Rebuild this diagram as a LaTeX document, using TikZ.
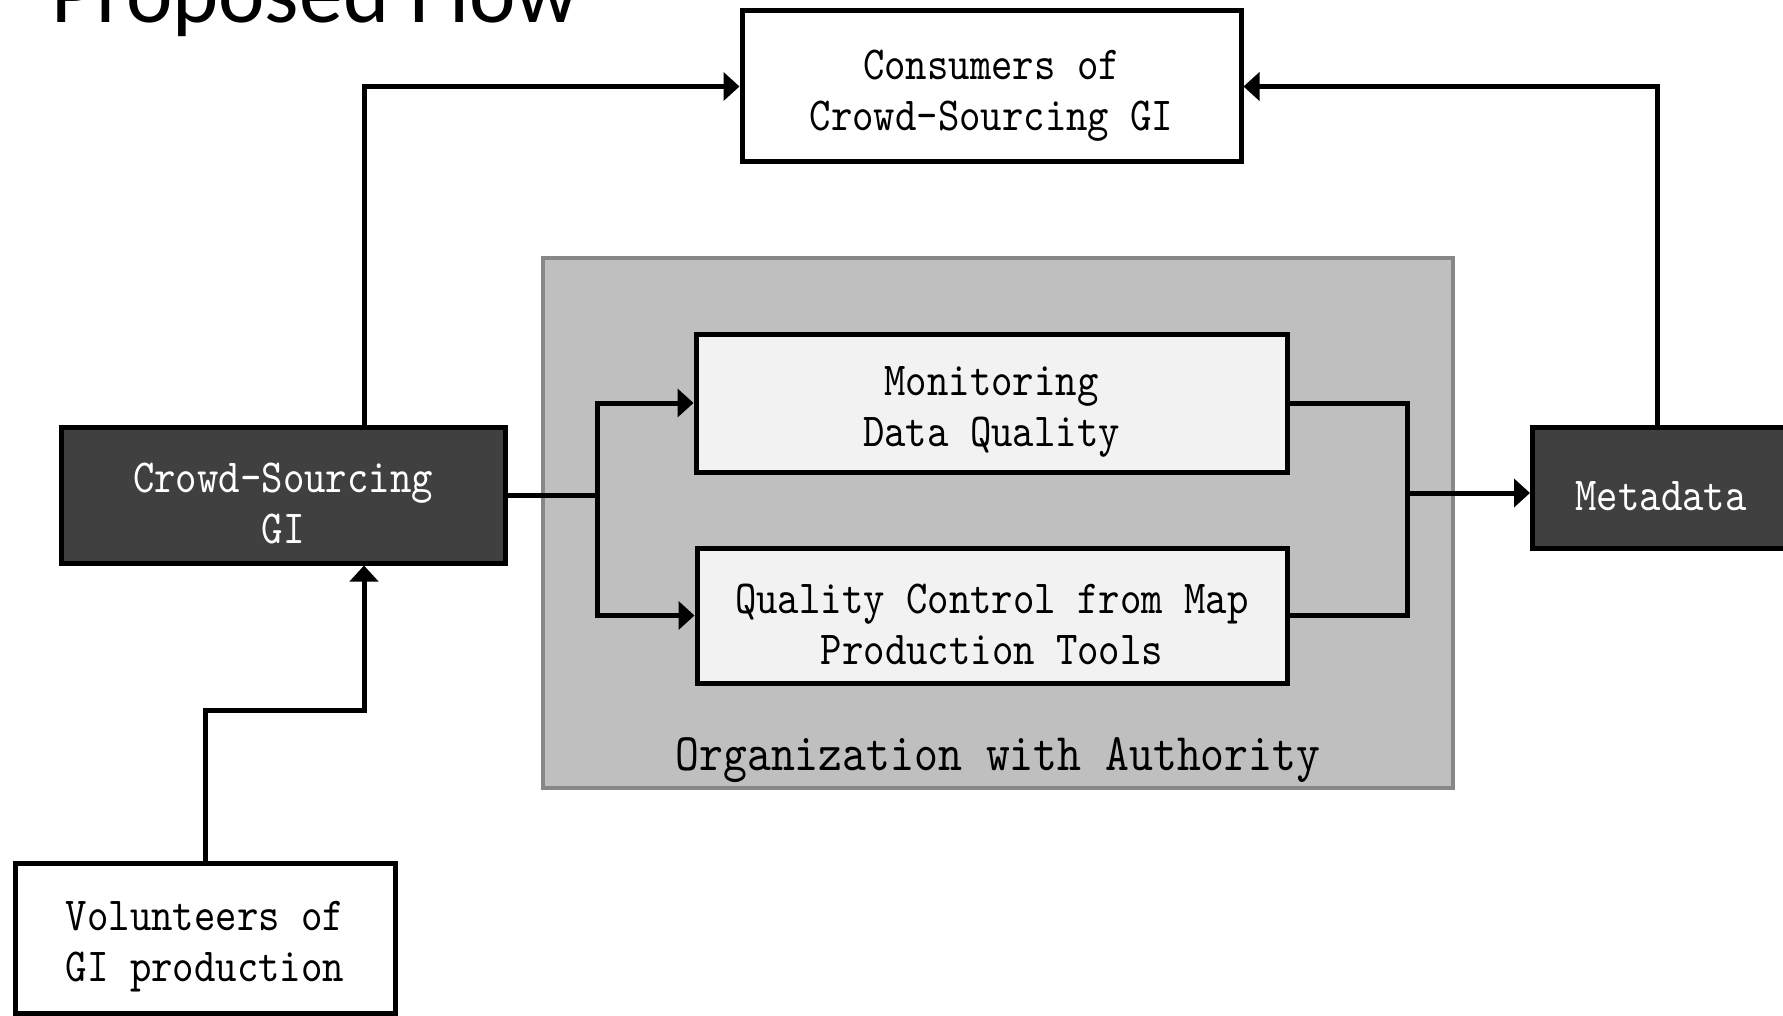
\documentclass[tikz,border=0pt]{standalone}
\usepackage{fontspec}
\setmonofont[FakeStretch=0.86]{lmmono10-regular.otf}
\newfontfamily\titlefont{Carlito}
\usetikzlibrary{positioning, calc, arrows.meta}
\definecolor{darkfill}{HTML}{404040}
\definecolor{lightfill}{HTML}{F2F2F2}
\definecolor{orgfill}{HTML}{BFBFBF}
\definecolor{orgline}{HTML}{878787}
\newcommand*{\lift}{\rule{0pt}{47pt}}

\begin{document}
\begin{tikzpicture}[x=1pt, y=-1pt,
  box/.style={rectangle, draw=black, line width=5pt, fill=lightfill, align=center, text centered, inner sep=0pt, font=\ttfamily\fontsize{47.4}{51}\selectfont},
  darkbox/.style={box, fill=darkfill, text=white},
  whitebox/.style={box, fill=white},
  orgbox/.style={rectangle, draw=orgline, line width=4pt, fill=orgfill, inner sep=0pt},
  flow/.style={line width=5pt, -{Triangle[length=16pt, width=28pt]}},
  link/.style={line width=5pt}]

\useasboundingbox (0,0) rectangle (1783,1016);
\clip (0,0) rectangle (1783,1016);

% TITLE

\node[anchor=base west, inner sep=0pt, font=\titlefont\fontsize{88}{100}\selectfont] (title) at (51,23) {Proposed Flow};

% ORGANIZATION

\node[orgbox, minimum width=910pt, minimum height=530pt] (org) at (998,523) {};
\node[anchor=base, inner sep=0pt, font=\ttfamily\fontsize{52.9}{55}\selectfont] (orgtitle) at (998,770) {Organization with Authority};

\node[box, minimum width=591pt, minimum height=138pt] (monitor) at (991.5,403)
{\lift Monitoring\\Data Quality};

\node[box, minimum width=590pt, minimum height=135pt] (qc) at (992,615.5)
{\lift Quality Control from Map\\Production Tools};

% OUTSIDE

\node[whitebox, minimum width=499pt, minimum height=151pt] (consumers) at (991.5,86.5)
{\lift Consumers of\\Crowd-Sourcing GI};

\node[darkbox, minimum width=444pt, minimum height=136pt] (crowd) at (283,495)
{\lift Crowd-Sourcing\\GI};

\node[darkbox, minimum width=257pt, minimum height=121pt] (meta) at (1661,487.5)
{\lift Metadata};

\node[whitebox, minimum width=380pt, minimum height=150pt] (volunteers) at (205,938)
{\lift Volunteers of\\GI production};

\coordinate (split) at (597,495);
\coordinate (join) at (1407,493);

% FLOWS

\draw[flow] ([xshift=81pt]crowd.north) |- (consumers.west);
\draw[flow] ([xshift=-4pt]meta.north) |- (consumers.east);
\draw[link] (crowd.east) -- (split);
\draw[flow] (split) |- (monitor.west);
\draw[flow] (split) |- (qc.west);
\draw[link] (monitor.east) -| (join) |- (qc.east);
\draw[flow] (join) -- (join -| meta.west);
\draw[flow] (volunteers.north) -- ++(0,-150) -| ([xshift=81pt]crowd.south);

\end{tikzpicture}
\end{document}
